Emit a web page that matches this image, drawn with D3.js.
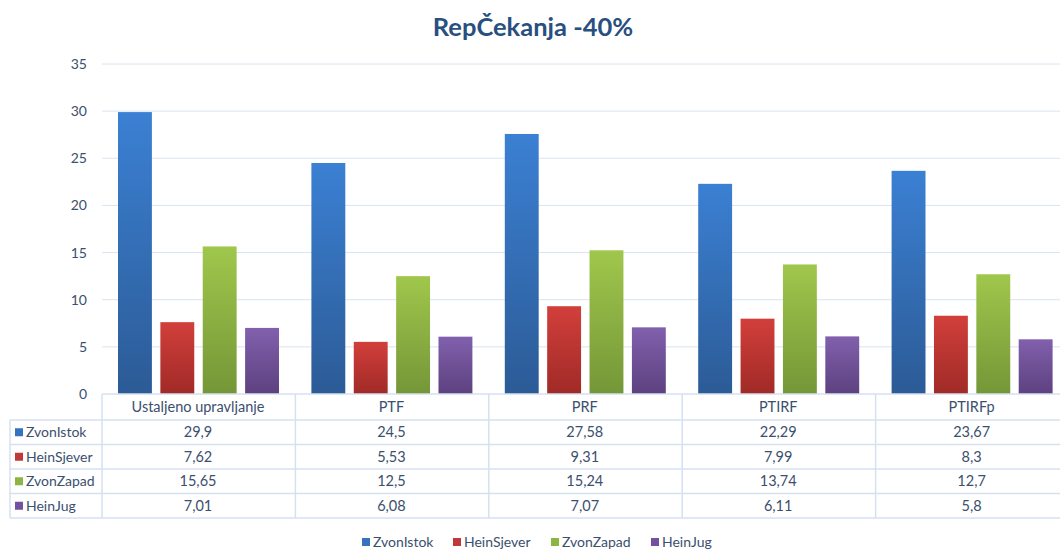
<!DOCTYPE html>
<html lang="hr">
  <head>
    <meta charset="UTF-8" />
    <title>RepČekanja -40%</title>
    <script src="https://d3js.org/d3.v7.min.js"></script>
    <style>
      body {
        margin: 0;
        background: #fff;
      }
      svg text {
        font-family: Lato, "Open Sans", sans-serif;
        fill: #3b4f6e;
      }
    </style>
  </head>
  <body>
    <svg id="svg" width="1060" height="550"></svg>
    <script>
      const categories = ["Ustaljeno upravljanje", "PTF", "PRF", "PTIRF", "PTIRFp"];
      const seriesNames = ["ZvonIstok", "HeinSjever", "ZvonZapad", "HeinJug"];
      const zvonIstok = [29.9, 24.5, 27.58, 22.29, 23.67];
      const heinSjever = [7.62, 5.53, 9.31, 7.99, 8.3];
      const zvonZapad = [15.65, 12.5, 15.24, 13.74, 12.7];
      const heinJug = [7.01, 6.08, 7.07, 6.11, 5.8];
      const yTicks = [0, 5, 10, 15, 20, 25, 30, 35];

      const values = [zvonIstok, heinSjever, zvonZapad, heinJug];
      // top/bottom gradient colours for each series
      const colors = [
        ["#3b80d3", "#2c5b96"],
        ["#d23f3b", "#a02a27"],
        ["#a0c74c", "#759637"],
        ["#8160ad", "#5d417f"],
      ];
      const keyColors = ["#3572c0", "#c0393a", "#8eb443", "#7251a0"];

      const svg = d3.select("#svg");
      const plotLeft = 102, plotRight = 1069, plotTop = 64, plotBottom = 394;

      const x0 = d3.scaleBand().domain(categories).range([plotLeft, plotRight]);
      const x1 = d3.scaleBand().domain(seriesNames).range([16, 177]).paddingInner(0.2);
      const y = d3.scaleLinear().domain([0, 35]).range([plotBottom, plotTop]);

      const defs = svg.append("defs");
      colors.forEach((c, i) => {
        const g = defs.append("linearGradient")
          .attr("id", "grad" + i)
          .attr("x1", 0).attr("y1", 0).attr("x2", 0).attr("y2", 1);
        g.append("stop").attr("offset", "0%").attr("stop-color", c[0]);
        g.append("stop").attr("offset", "100%").attr("stop-color", c[1]);
      });

      // title
      svg.append("text")
        .attr("x", 533).attr("y", 36)
        .attr("text-anchor", "middle")
        .style("font-size", "25.5px")
        .style("font-weight", "bold")
        .style("fill", "#284f80")
        .text("RepČekanja -40%");

      // gridlines
      svg.append("g")
        .selectAll("line")
        .data(yTicks.slice(1))
        .join("line")
        .attr("x1", plotLeft).attr("x2", 1060)
        .attr("y1", d => y(d)).attr("y2", d => y(d))
        .attr("stroke", "#d9e4f2").attr("stroke-width", 1);

      // y labels
      svg.append("g")
        .selectAll("text")
        .data(yTicks)
        .join("text")
        .attr("x", 87).attr("y", d => y(d) + 5)
        .attr("text-anchor", "end")
        .style("font-size", "14px")
        .text(d => d);

      // bars
      seriesNames.forEach((s, si) => {
        svg.append("g")
          .selectAll("rect")
          .data(values[si])
          .join("rect")
          .attr("x", (d, i) => x0(categories[i]) + x1(s))
          .attr("width", x1.bandwidth())
          .attr("y", d => y(d))
          .attr("height", d => y(0) - y(d))
          .attr("fill", "url(#grad" + si + ")");
      });

      // data table
      const rowTop = 420, rowH = 24.5;
      const lineColor = "#d5e1f0";
      const tbl = svg.append("g");
      tbl.append("line")
        .attr("x1", plotLeft).attr("x2", 1060).attr("y1", plotBottom).attr("y2", plotBottom)
        .attr("stroke", lineColor).attr("stroke-width", 1.5);
      d3.range(5).forEach(r => {
        tbl.append("line")
          .attr("x1", 10).attr("x2", 1060)
          .attr("y1", rowTop + r * rowH).attr("y2", rowTop + r * rowH)
          .attr("stroke", lineColor).attr("stroke-width", 1.5);
      });
      tbl.append("line")
        .attr("x1", 10).attr("x2", 10).attr("y1", rowTop).attr("y2", rowTop + 4 * rowH)
        .attr("stroke", lineColor).attr("stroke-width", 1.5);
      categories.forEach(c => {
        tbl.append("line")
          .attr("x1", x0(c)).attr("x2", x0(c)).attr("y1", plotBottom).attr("y2", rowTop + 4 * rowH)
          .attr("stroke", lineColor).attr("stroke-width", 1.5);
      });

      tbl.selectAll("text.cat")
        .data(categories)
        .join("text")
        .attr("class", "cat")
        .attr("x", d => x0(d) + 96)
        .attr("y", 412)
        .attr("text-anchor", "middle")
        .style("font-size", "14.5px")
        .text(d => d);

      seriesNames.forEach((s, si) => {
        const cy = rowTop + si * rowH + rowH / 2;
        tbl.append("rect")
          .attr("x", 15).attr("y", cy - 4).attr("width", 8).attr("height", 8)
          .attr("fill", keyColors[si]);
        tbl.append("text")
          .attr("x", 26).attr("y", cy + 5)
          .style("font-size", "14px")
          .text(s);
        tbl.append("g")
          .selectAll("text")
          .data(values[si])
          .join("text")
          .attr("x", (d, i) => x0(categories[i]) + 96)
          .attr("y", cy + 5)
          .attr("text-anchor", "middle")
          .style("font-size", "14.5px")
          .text(d => String(d).replace(".", ","));
      });

      // legend
      const legendX = [362, 453, 551, 651];
      seriesNames.forEach((s, si) => {
        const lg = svg.append("g").attr("transform", `translate(${legendX[si]},542)`);
        lg.append("rect").attr("x", 0).attr("y", -4).attr("width", 8).attr("height", 8)
          .attr("fill", keyColors[si]);
        lg.append("text").attr("x", 11).attr("y", 5)
          .style("font-size", "14px")
          .text(s);
      });
    </script>
  </body>
</html>
